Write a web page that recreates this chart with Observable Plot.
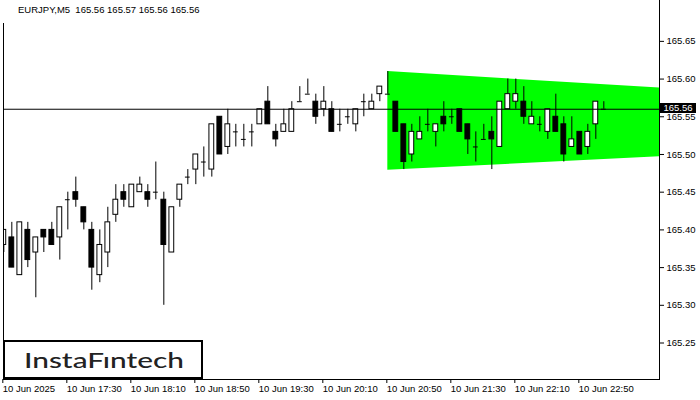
<!DOCTYPE html>
<html>
<head>
<meta charset="utf-8">
<script src="https://cdn.jsdelivr.net/npm/d3@7"></script>
<script src="https://cdn.jsdelivr.net/npm/@observablehq/plot@0.6"></script>
<style>
  html, body { margin: 0; padding: 0; background: #fff; }
  #wrap { position: relative; width: 700px; height: 400px; overflow: hidden; }
  #title { position: absolute; left: 0; top: 0; width: 640px; height: 23px; box-sizing: border-box; padding: 4px 0 0 18px; background: #fff; font: 9.5px "Liberation Sans", Arial, sans-serif; color: #000; white-space: pre; }
  #price { position: absolute; left: 660px; width: 36px; height: 10px; background: #000; color: #fff; font: 9.5px "Liberation Sans", Arial, sans-serif; line-height: 10px; text-align: center; }
  #logo { position: absolute; left: 3px; top: 340px; width: 196px; height: 35px; border: 2px solid #000; background: #fff; }
</style>
</head>
<body>
<div id="wrap">
  <div id="chart"></div>
  <div id="title">EURJPY,M5  165.56 165.57 165.56 165.56</div>
  <div id="price"></div>
  <div id="logo"><svg width="196" height="35"><text x="19" y="26" textLength="160" lengthAdjust="spacingAndGlyphs" font-family="Lato, 'Open Sans', sans-serif" font-weight="500" font-size="22" fill="#222">InstaFıntech</text></svg></div>
</div>
<script>
// Candles (M5), bar index 0 = 10 Jun 16:50
const opens  = [165.38,165.39,165.34,165.40,165.37,165.40,165.40,165.39,165.44,165.45,
                165.43,165.40,165.34,165.37,165.42,165.45,165.43,165.45,165.45,165.45,
                165.44,165.37,165.44,165.47,165.48,165.49,165.48,165.55,165.51,165.53,
                165.52,165.53,165.54,165.57,165.53,165.53,165.53,165.57,165.58,165.57,
                165.56,165.56,165.54,165.55,165.54,165.57,165.56,165.58,165.58,165.57,
                165.54,165.50,165.52,165.54,165.53,165.55,165.55,165.56,165.54,165.51,
                165.52,165.53,165.51,165.56,165.57,165.57,165.54,165.54,165.53,165.55,
                165.54,165.51,165.53,165.51,165.54,165.56];
const highs  = [165.40,165.41,165.41,165.41,165.39,165.40,165.41,165.43,165.45,165.47,
                165.43,165.41,165.40,165.43,165.46,165.46,165.46,165.47,165.46,165.49,
                165.45,165.43,165.46,165.48,165.50,165.51,165.54,165.55,165.56,165.54,
                165.54,165.54,165.56,165.59,165.54,165.56,165.57,165.59,165.60,165.58,
                165.59,165.57,165.56,165.56,165.56,165.58,165.58,165.59,165.61,165.57,
                165.54,165.54,165.55,165.56,165.54,165.57,165.56,165.56,165.54,165.53,
                165.54,165.55,165.57,165.60,165.60,165.59,165.57,165.55,165.56,165.58,
                165.55,165.55,165.53,165.54,165.57,165.57];
const lows   = [165.37,165.35,165.34,165.35,165.31,165.37,165.38,165.36,165.40,165.43,
                165.40,165.32,165.33,165.35,165.41,165.43,165.43,165.45,165.43,165.44,
                165.30,165.37,165.43,165.46,165.46,165.47,165.47,165.50,165.50,165.51,
                165.51,165.51,165.54,165.54,165.51,165.53,165.53,165.57,165.58,165.54,
                165.55,165.53,165.53,165.54,165.53,165.55,165.56,165.57,165.58,165.53,
                165.48,165.49,165.52,165.53,165.51,165.53,165.54,165.53,165.50,165.49,
                165.52,165.48,165.51,165.56,165.56,165.54,165.54,165.53,165.52,165.53,
                165.49,165.51,165.50,165.50,165.52,165.56];
const closes = [165.40,165.35,165.41,165.36,165.39,165.39,165.38,165.43,165.44,165.44,
                165.41,165.35,165.38,165.41,165.44,165.44,165.46,165.46,165.44,165.45,
                165.38,165.43,165.46,165.47,165.50,165.49,165.54,165.50,165.54,165.53,
                165.52,165.53,165.56,165.54,165.52,165.54,165.56,165.57,165.58,165.55,
                165.57,165.53,165.54,165.55,165.56,165.57,165.57,165.59,165.58,165.53,
                165.49,165.53,165.53,165.54,165.54,165.54,165.55,165.53,165.52,165.51,
                165.52,165.52,165.57,165.58,165.58,165.55,165.55,165.54,165.56,165.53,
                165.50,165.52,165.50,165.53,165.57,165.56];

// time axis
const timeTickIndex  = [0, 8, 16, 24, 32, 40, 48, 56, 64, 72];
const timeTickLabels = ["10 Jun 2025","10 Jun 17:30","10 Jun 18:10","10 Jun 18:50","10 Jun 19:30",
                        "10 Jun 20:10","10 Jun 20:50","10 Jun 21:30","10 Jun 22:10","10 Jun 22:50"];
// price axis
const priceTicks = [165.25, 165.30, 165.35, 165.40, 165.45, 165.50, 165.55, 165.60, 165.65];
const lastPrice = 165.56;

// pattern (green symmetric triangle/flag)
const patternIndex  = [48, 82];
const patternUpper  = [165.610, 165.588];
const patternLower  = [165.479, 165.497];

const candles = opens.map((o, i) => ({i, o, h: highs[i], l: lows[i], c: closes[i]}));
const pattern = patternIndex.map((x, k) => ({x, hi: patternUpper[k], lo: patternLower[k]}));
const half = 0.3;

const chart = Plot.plot({
  width: 700,
  height: 400,
  marginLeft: 3,
  marginRight: 41,
  marginTop: 0,
  marginBottom: 21,
  x: {domain: [-0.04, 81.96]},
  y: {domain: [165.2016, 165.7042]},
  style: {fontFamily: "'Liberation Sans', Arial, sans-serif", fontSize: "9.5px", color: "#000", background: "#fff"},
  marks: [
    Plot.areaY(pattern, {x: "x", y1: "lo", y2: "hi", fill: "#00ff00", clip: true}),
    Plot.ruleX(candles, {x: "i", y1: "l", y2: "h", stroke: "#000", strokeWidth: 1, clip: true}),
    Plot.rect(candles.filter(d => d.o !== d.c), {
      x1: d => d.i - half, x2: d => d.i + half, y1: "o", y2: "c",
      fill: d => d.c > d.o ? "white" : "black", stroke: "#000", strokeWidth: 1, clip: true
    }),
    Plot.ruleY(candles.filter(d => d.o === d.c), {
      y: "o", x1: d => d.i - half, x2: d => d.i + half, stroke: "#000", strokeWidth: 1, clip: true
    }),
    Plot.ruleY([lastPrice], {stroke: "#000", strokeWidth: 1}),
    Plot.frame({anchor: "left", stroke: "#000"}),
    Plot.frame({anchor: "bottom", stroke: "#000"}),
    Plot.frame({anchor: "right", stroke: "#000"}),
    Plot.axisY(priceTicks, {anchor: "right", tickSize: 4, tickPadding: 3, tickFormat: d => d.toFixed(2), label: null}),
    Plot.axisX(timeTickIndex, {anchor: "bottom", tickSize: 4, tickPadding: 2, textAnchor: "start", dx: -1,
      tickFormat: d => timeTickLabels[timeTickIndex.indexOf(d)], label: null})
  ]
});
document.getElementById("chart").appendChild(chart);

const priceBox = document.getElementById("price");
priceBox.textContent = lastPrice.toFixed(2);
priceBox.style.top = (chart.scale("y").apply(lastPrice) - 5.5) + "px";
</script>
</body>
</html>
